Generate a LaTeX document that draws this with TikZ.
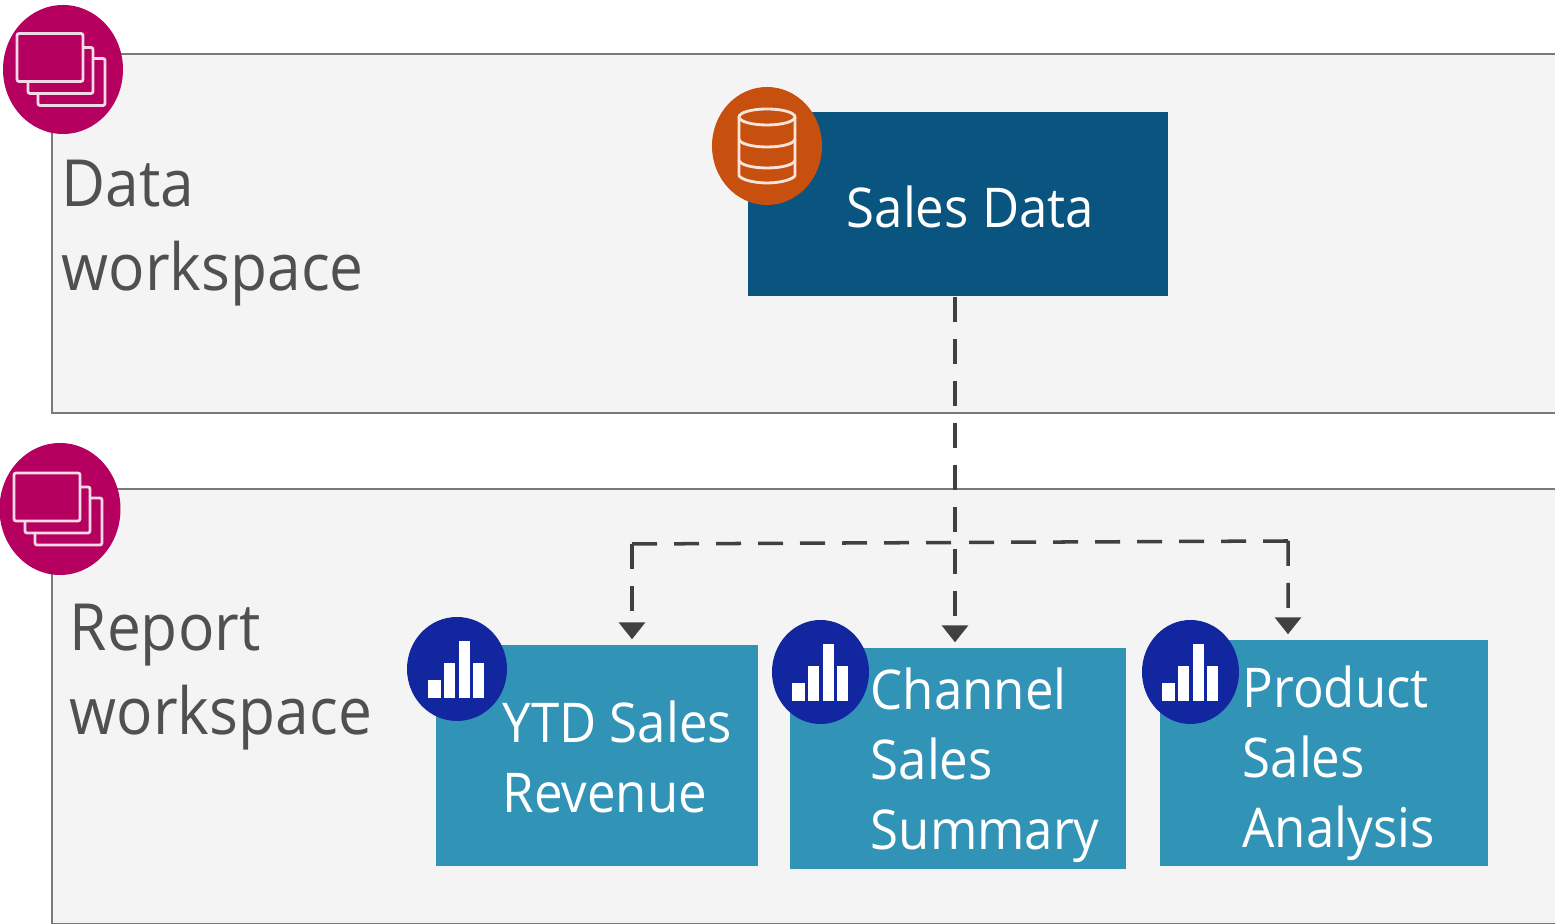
\documentclass[tikz,border=0pt]{standalone}
\usepackage{fontspec}
\setmainfont[FakeStretch=0.93]{Open Sans}
\usetikzlibrary{arrows.meta, shapes.geometric}

\definecolor{panelfill}{HTML}{F4F4F4}
\definecolor{panelline}{HTML}{7A7A7A}
\definecolor{labelgray}{HTML}{505050}
\definecolor{linkgray}{HTML}{404040}
\definecolor{datablue}{HTML}{0A5580}
\definecolor{reportteal}{HTML}{3193B5}
\definecolor{stackpink}{HTML}{B5005F}
\definecolor{dborange}{HTML}{C8500F}
\definecolor{chartblue}{HTML}{1226A0}

\tikzset{
    panel/.style={rectangle, draw=panelline, line width=0.55pt, fill=panelfill, anchor=north west, inner sep=0pt},
    panellabel/.style={anchor=north west, align=left, inner sep=0pt, text=labelgray, font=\fontsize{18.5}{24}\selectfont},
    badge/.style={ellipse, inner sep=0pt},
    card/.style={rectangle, inner sep=0pt, text=white, align=left, font=\fontsize{15.6}{20}\selectfont},
    iconline/.style={draw=white!85!stackpink, line width=0.8pt, rounded corners=0.6pt},
    linkline/.style={draw=linkgray, line width=1pt, dash pattern=on 0.25cm off 0.17cm},
    link/.style={linkline, shorten >=0.05cm, -{Triangle[width=0.26cm, length=0.17cm]}}
}

\begin{document}
\begin{tikzpicture}
    \useasboundingbox (0,0) rectangle (15.55,9.24);
    \clip (0,0) rectangle (15.55,9.24);

    % Workspaces
    \node[panel, minimum width=16cm, minimum height=3.59cm] (datapanel) at (0.51,8.71) {};
    \node[panel, minimum width=16cm, minimum height=4.35cm] (reportpanel) at (0.51,4.36) {};
    \node[panellabel] (datalabel) at (0.61,7.65) {Data\\workspace};
    \node[panellabel] (reportlabel) at (0.69,3.21) {Report\\workspace};

    % Cards
    \node[card, fill=datablue, minimum width=4.20cm, minimum height=1.84cm] (sales) at (9.58,7.20) {};
    \node[card, fill=reportteal, minimum width=3.22cm, minimum height=2.21cm] (ytd) at (5.97,1.685) {};
    \node[card, fill=reportteal, minimum width=3.36cm, minimum height=2.21cm] (channel) at (9.58,1.655) {};
    \node[card, fill=reportteal, minimum width=3.28cm, minimum height=2.26cm] (product) at (13.24,1.71) {};
    \node[card, anchor=west] (salestext) at (8.46,7.17) {Sales Data};
    \node[card, anchor=north west] (ytdtext) at (5.02,2.24) {YTD Sales\\Revenue};
    \node[card, anchor=north west] (channeltext) at (8.70,2.57) {Channel\\Sales\\Summary};
    \node[card, anchor=north west] (producttext) at (12.42,2.59) {Product\\Sales\\Analysis};

    % Links
    \coordinate (ytdbend) at (6.32,3.80);
    \coordinate (linksplit) at (9.55,3.815);
    \coordinate (productbend) at (12.88,3.83);
    \draw[link] ([xshift=-0.03cm]sales.south) -- ([xshift=-0.03cm]channel.north);
    \draw[linkline] (ytdbend) -- (linksplit);
    \draw[linkline] (productbend) -- (linksplit);
    \draw[link] (ytdbend) -- ([xshift=0.35cm]ytd.north);
    \draw[link] (productbend) -- ([xshift=-0.36cm]product.north);

    % Badges
    \node[badge, fill=stackpink, minimum width=1.20cm, minimum height=1.29cm] (stackdata) at (0.63,8.545) {};
    \node[badge, fill=stackpink, minimum width=1.21cm, minimum height=1.32cm] (stackreport) at (0.60,4.15) {};
    \node[badge, fill=dborange, minimum width=1.10cm, minimum height=1.18cm] (dbicon) at (7.67,7.78) {};
    \node[badge, fill=chartblue, minimum width=1.00cm, minimum height=1.04cm] (chartytd) at (4.57,2.55) {};
    \node[badge, fill=chartblue, minimum width=0.97cm, minimum height=1.04cm] (chartchannel) at (8.205,2.52) {};
    \node[badge, fill=chartblue, minimum width=0.97cm, minimum height=1.04cm] (chartproduct) at (11.905,2.52) {};

    % Icons
    \foreach \badgename in {stackdata, stackreport} {
        \begin{scope}[shift={(\badgename.center)}]
            \draw[iconline] (-0.46,-0.12) rectangle (0.20,0.36);
            \draw[iconline] (-0.35,-0.12) -- (-0.35,-0.24) -- (0.30,-0.24) -- (0.30,0.22) -- (0.20,0.22);
            \draw[iconline] (-0.25,-0.24) -- (-0.25,-0.36) -- (0.42,-0.36) -- (0.42,0.11) -- (0.30,0.11);
        \end{scope}
    }
    \begin{scope}[shift={(dbicon.center)}]
        \draw[iconline, draw=white!85!dborange] (0,0.29) ellipse (0.28 and 0.08);
        \draw[iconline, draw=white!85!dborange] (-0.28,0.29) -- (-0.28,-0.27) arc (180:360:0.28 and 0.10) -- (0.28,0.29);
        \draw[iconline, draw=white!85!dborange] (-0.28,0.07) arc (180:360:0.28 and 0.08);
        \draw[iconline, draw=white!85!dborange] (-0.28,-0.14) arc (180:360:0.28 and 0.08);
    \end{scope}
    \foreach \badgename in {chartytd, chartchannel, chartproduct} {
        \begin{scope}[shift={(\badgename.center)}]
            \fill[white] (-0.29,-0.29) rectangle (-0.16,-0.11);
            \fill[white] (-0.13,-0.29) rectangle (-0.02,0.06);
            \fill[white] (0.02,-0.29) rectangle (0.13,0.28);
            \fill[white] (0.16,-0.29) rectangle (0.27,0.06);
        \end{scope}
    }
\end{tikzpicture}
\end{document}
